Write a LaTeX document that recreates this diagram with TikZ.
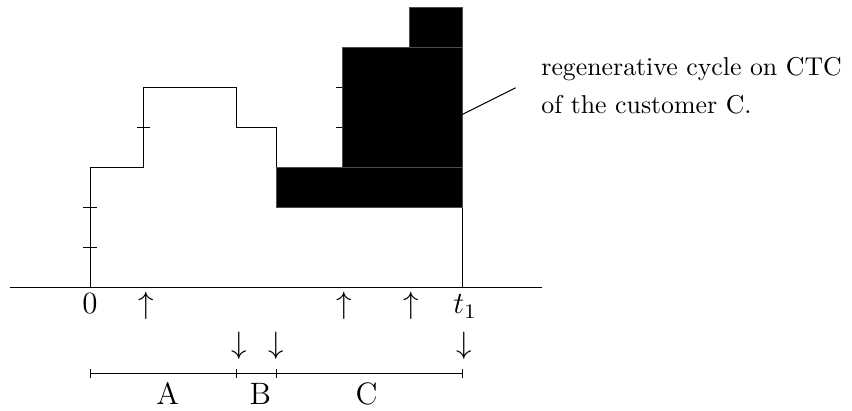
\documentclass[tikz,border=0pt]{standalone}
\usepackage{tikz}
\usetikzlibrary{positioning}

\begin{document}
\begin{tikzpicture}[x=5.155pt, y=5.155pt, font=\large,
  blk/.style={fill=black, draw=black!70},
  lbl/.style={anchor=base, inner sep=0pt}]
  \useasboundingbox (-6.77,-9.23) rectangle (57.29,21.6);

  \draw (-6,0) -- (34,0);
  \draw (0,0) -- (0,9) -- (4,9) -- (4,15) -- (11,15) -- (11,12) -- (14,12) -- (14,9) -- (19,9);
  \draw (28,0) -- (28,6);

  \foreach \x/\y in {0/3, 0/6, 4/12, 19/12, 19/15} {
    \draw (\x-0.5,\y) -- (\x+0.5,\y);
  }

  % regenerative cycle
  \filldraw[blk] (14,6) rectangle (28,9);
  \filldraw[blk] (19,9) rectangle (28,18);
  \filldraw[blk] (24,18) rectangle (28,21);

  \coordinate (leadA) at (28,13);
  \coordinate (leadB) at (32,15);
  \draw (leadA) -- (leadB);
  \node[anchor=base west, inner sep=0pt, align=left, font=\fontsize{10}{14.5}\selectfont]
    (cycle) at (33.9,13.08) {regenerative cycle on CTC\\of the customer C.};

  \node[lbl] (zero) at (0,-2) {$0$};
  \node[lbl] (tone) at (28.2,-2) {$t_1$};
  \foreach \x/\n in {4.21/a, 19.12/b, 24.14/c} {
    \node[lbl] (up\n) at (\x,-2) {$\uparrow$};
  }
  \foreach \x/\n in {11.2/a, 13.98/b, 28.14/c} {
    \node[lbl] (down\n) at (\x,-5) {$\downarrow$};
  }

  \draw (0,-6.47) -- (28,-6.47);
  \foreach \x in {0,11,14,28} {
    \draw (\x,-6.13) -- (\x,-6.81);
  }
  \node[lbl] (partA) at (5.85,-8.85) {A};
  \node[lbl] (partB) at (12.8,-8.85) {B};
  \node[lbl] (partC) at (20.8,-8.85) {C};
\end{tikzpicture}
\end{document}
